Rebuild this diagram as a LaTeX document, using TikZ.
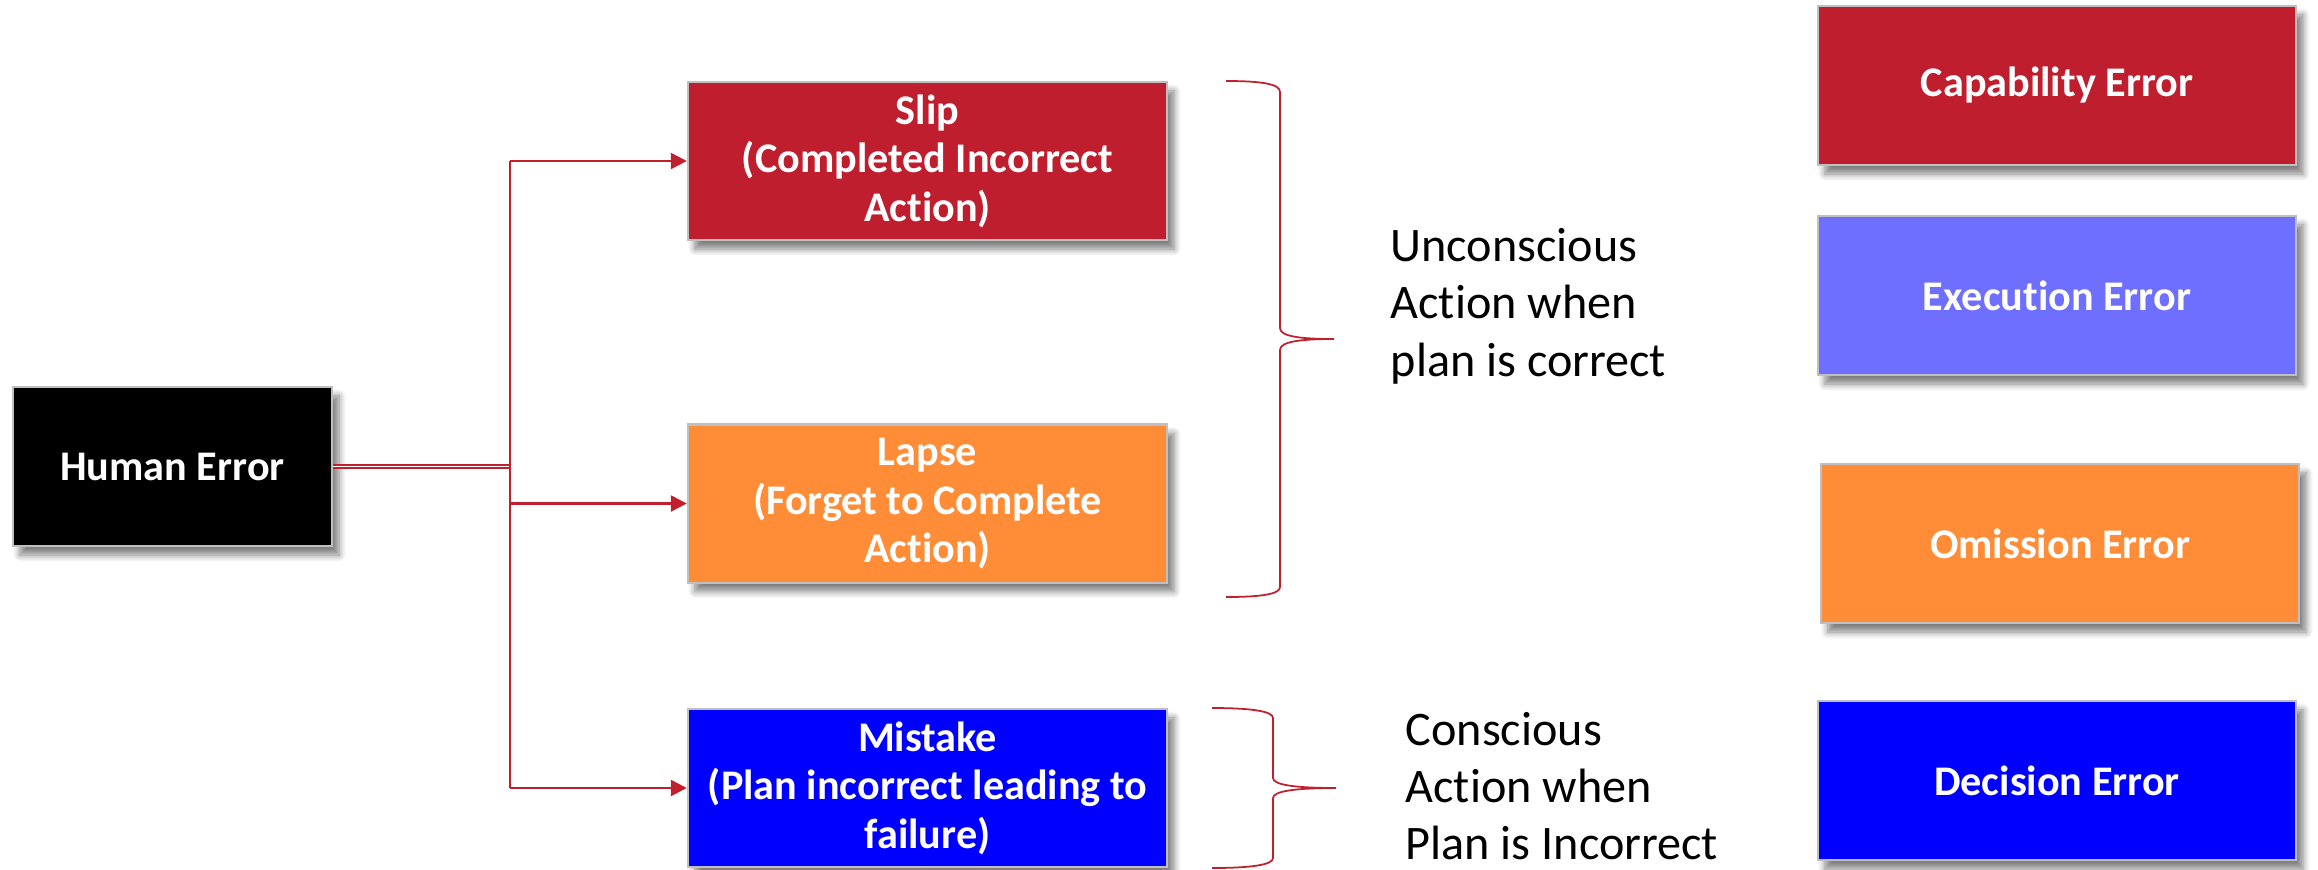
\documentclass[tikz,border=0pt]{standalone}
\usepackage{fontspec}
\setmainfont{Carlito}[Ligatures=NoCommon]
\usetikzlibrary{arrows.meta,shadows.blur}
\definecolor{cred}{HTML}{BE1E2D}
\definecolor{corange}{HTML}{FF8C37}
\definecolor{cviolet}{HTML}{6F6FFF}
\definecolor{cblue}{HTML}{0000FF}
\definecolor{cline}{HTML}{C0202E}
\begin{document}
\begin{tikzpicture}[x=0.01cm,y=-0.01cm,
  box/.style={draw=black!25, line width=0.6pt, minimum width=4.79cm, minimum height=1.58cm,
    inner sep=0pt, text=white, align=center, font=\fontsize{12}{13.8}\selectfont\bfseries,
    blur shadow={shadow xshift=0.7mm, shadow yshift=-0.9mm, shadow blur steps=6, shadow opacity=50}},
  conn/.style={draw=cline, line width=0.7pt},
  arr/.style={conn, -{Triangle[length=4.5pt,width=4.5pt]}},
  bracepath/.style={draw=cline, line width=0.5pt},
  note/.style={align=left, inner sep=0pt, font=\fontsize{13.7}{16.3}\selectfont, anchor=west}]
\useasboundingbox (0,0) rectangle (2318,869);
% main nodes
\node[box, fill=black, minimum width=3.19cm, minimum height=1.59cm] (he) at (172.5,466.5) {Human Error};
\node[box, fill=cred] (slip) at (927.5,161) {Slip\\(Completed Incorrect\\Action)};
\node[box, fill=corange] (lapse) at (927.5,503.5) {Lapse\\(Forget to Complete\\Action)};
\node[box, fill=cblue] (mis) at (927.5,788) {Mistake\\(Plan incorrect leading to\\failure)};
% right column
\node[box, fill=cred, minimum width=4.78cm, minimum height=1.59cm] (cap) at (2057,85.5) {Capability Error};
\node[box, fill=cviolet, minimum width=4.78cm, minimum height=1.59cm] (exe) at (2057,295.5) {Execution Error};
\node[box, fill=corange, minimum width=4.78cm, minimum height=1.59cm] (omi) at (2060,543.5) {Omission Error};
\node[box, fill=cblue, minimum width=4.78cm, minimum height=1.59cm] (dec) at (2057,780.5) {Decision Error};
% connectors
\coordinate (sp) at (510,468);
\draw[draw=cline, line width=0.4pt, double=white, double distance=0.4pt] (he.east) -- (he.east -| sp);
\draw[conn] (sp |- slip.west) -- (sp |- mis.west);
\draw[arr] (sp |- slip.west) -- (slip.west);
\draw[arr] (sp |- lapse.west) -- (lapse.west);
\draw[arr] (sp |- mis.west) -- (mis.west);
% braces
\draw[bracepath] (1226,81) .. controls (1262,81) and (1280,84) .. (1280,92)
  -- (1280,328) .. controls (1280,336) and (1298,339) .. (1334,339)
  .. controls (1298,339) and (1280,342) .. (1280,350)
  -- (1280,587) .. controls (1280,594) and (1262,597) .. (1226,597);
\draw[bracepath] (1212,708) .. controls (1250,708) and (1273,711) .. (1273,718)
  -- (1273,778) .. controls (1273,785) and (1296,788) .. (1336,788)
  .. controls (1296,788) and (1273,791) .. (1273,798)
  -- (1273,858) .. controls (1273,865) and (1250,868) .. (1212,868);
% notes
\node[note] (t1) at (1390,306) {Unconscious\\Action when\\plan is correct};
\node[note] (t2) at (1405,786) {Conscious\\Action when\\Plan is Incorrect};
\end{tikzpicture}
\end{document}
